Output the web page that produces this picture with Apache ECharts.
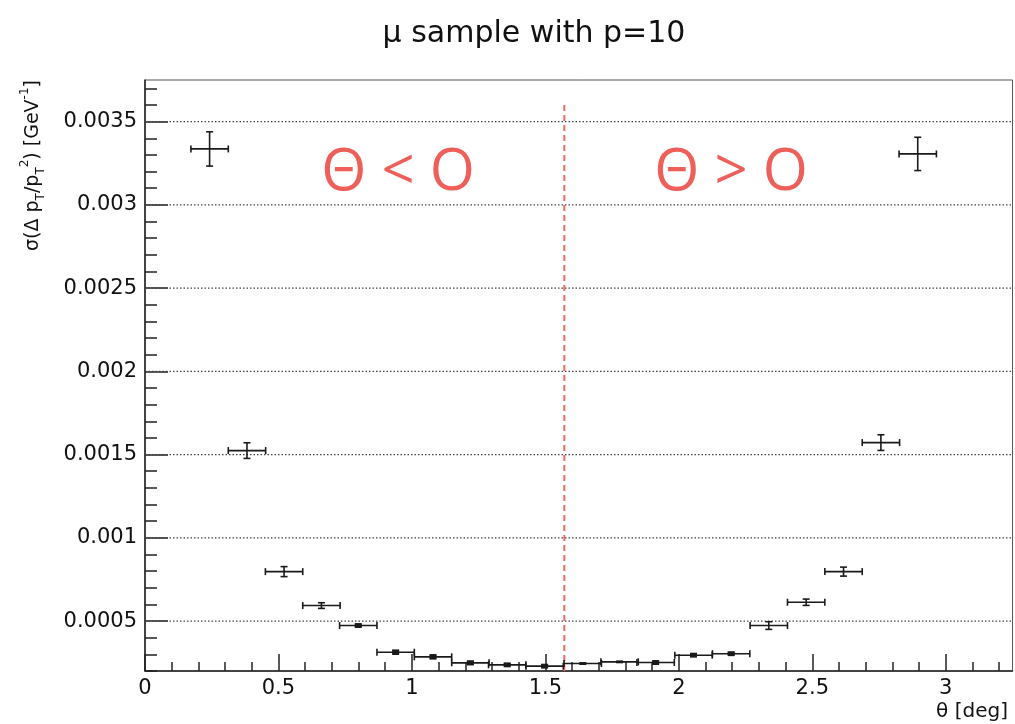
<!DOCTYPE html>
<html>
<head>
<meta charset="utf-8">
<script src="https://cdn.jsdelivr.net/npm/echarts@6/dist/echarts.min.js"></script>
<style>
  html, body { margin: 0; padding: 0; background: #fff; }
  #chart { width: 1015px; height: 724px; }
</style>
</head>
<body>
<div id="chart"></div>
<script>
// ---- data ----
const thetaCenters = [0.242, 0.382, 0.521, 0.661, 0.799, 0.939, 1.079, 1.219, 1.357, 1.497,
                      1.640, 1.778, 1.913, 2.055, 2.196, 2.337, 2.477, 2.617, 2.757, 2.895];
const thetaHalfWidths = [0.070, 0.070, 0.070, 0.070, 0.070, 0.070, 0.070, 0.070, 0.070, 0.070,
                         0.070, 0.070, 0.070, 0.070, 0.070, 0.070, 0.070, 0.070, 0.070, 0.070];
const sigmaValues = [0.003336, 0.001524, 0.000797, 0.000593, 0.000473, 0.000313, 0.000285, 0.000249, 0.000237, 0.000229,
                     0.000245, 0.000255, 0.000251, 0.000295, 0.000304, 0.000473, 0.000613, 0.000797, 0.001572, 0.003306];
const sigmaErrors = [0.000103, 0.000047, 0.000030, 0.000017, 0.000010, 0.000012, 0.000012, 0.000011, 0.000010, 0.000010,
                     0.000004, 0.000004, 0.000010, 0.000010, 0.000010, 0.000023, 0.000019, 0.000027, 0.000047, 0.000100];

const dividerX = 1.571;
const dividerYRange = [0.0002, 0.00362];

const xTickValues = [0, 0.5, 1, 1.5, 2, 2.5, 3];
const xTickLabels = ['0', '0.5', '1', '1.5', '2', '2.5', '3'];
const yTickValues = [0.0005, 0.001, 0.0015, 0.002, 0.0025, 0.003, 0.0035];
const yTickLabels = ['0.0005', '0.001', '0.0015', '0.002', '0.0025', '0.003', '0.0035'];

const xRange = [0, 3.25];
const yRange = [0.0002, 0.00375];

const titleText = 'μ sample with p=10';
const xAxisTitle = 'θ [deg]';
const leftNote = 'Θ < O';
const rightNote = 'Θ > O';

// minor tick positions
const xMinorTicks = [];
for (let i = 0; i <= 32; i++) xMinorTicks.push(i / 10);
const yMinorTicks = [];
for (let i = 2; i <= 37; i++) yMinorTicks.push(i / 10000);

// ---- build ----
const errData = thetaCenters.map((x, i) => [x, sigmaValues[i], thetaHalfWidths[i], sigmaErrors[i]]);
const gridData = yTickValues.map(v => [v]);

const FONT = 'DejaVu Sans';
const chart = echarts.init(document.getElementById('chart'), null, { renderer: 'canvas' });

const option = {
  animation: false,
  backgroundColor: '#ffffff',
  title: {
    text: titleText,
    left: 529,
    top: 14,
    textAlign: 'center',
    textStyle: { fontFamily: FONT, fontSize: 30, fontWeight: 'normal', color: '#111' }
  },
  grid: {
    left: 145, right: 2.5, top: 80, bottom: 53,
    show: true, borderColor: '#555', borderWidth: 1, backgroundColor: 'transparent'
  },
  xAxis: [
    {
      type: 'value', min: xRange[0], max: xRange[1], position: 'bottom',
      axisLine: { show: true, onZero: false, lineStyle: { color: '#222', width: 1.5 } },
      axisTick: { show: true, inside: true, length: 17, customValues: xTickValues, lineStyle: { color: '#222', width: 1.5 } },
      axisLabel: {
        customValues: xTickValues, margin: 7,
        fontFamily: FONT, fontSize: 21, color: '#111',
        formatter: v => { const i = xTickValues.findIndex(t => Math.abs(t - v) < 1e-9); return i >= 0 ? xTickLabels[i] : ''; }
      },
      splitLine: { show: false }
    },
    {
      type: 'value', min: xRange[0], max: xRange[1], position: 'bottom', offset: 0,
      axisLine: { show: false, onZero: false },
      axisTick: { show: true, inside: true, length: 9, customValues: xMinorTicks, lineStyle: { color: '#222', width: 1.5 } },
      axisLabel: { show: false },
      splitLine: { show: false }
    }
  ],
  yAxis: [
    {
      type: 'value', min: yRange[0], max: yRange[1], position: 'left',
      axisLine: { show: true, onZero: false, lineStyle: { color: '#222', width: 1.5 } },
      axisTick: { show: true, inside: true, length: 23, customValues: yTickValues, lineStyle: { color: '#222', width: 1.5 } },
      axisLabel: {
        customValues: yTickValues, margin: 8,
        fontFamily: FONT, fontSize: 21, color: '#111',
        formatter: v => { const i = yTickValues.findIndex(t => Math.abs(t - v) < 1e-12); return i >= 0 ? yTickLabels[i] : ''; }
      },
      splitLine: { show: false }
    },
    {
      type: 'value', min: yRange[0], max: yRange[1], position: 'left', offset: 0,
      axisLine: { show: false, onZero: false },
      axisTick: { show: true, inside: true, length: 12, customValues: yMinorTicks, lineStyle: { color: '#222', width: 1.5 } },
      axisLabel: { show: false },
      splitLine: { show: false }
    }
  ],
  graphic: [
    {
      type: 'text', x: 33, y: 80, rotation: Math.PI / 2, z: 10,
      style: {
        text: '{n|σ(Δ p}{s|T}{n|/p}{s|T}{p|2}{n|) [GeV}{p|-1}{n|]}',
        align: 'right', verticalAlign: 'middle',
        fill: '#111',
        rich: {
          n: { fontFamily: FONT, fontSize: 19, lineHeight: 28, fill: '#111' },
          s: { fontFamily: FONT, fontSize: 12, lineHeight: 28, verticalAlign: 'bottom', fill: '#111' },
          p: { fontFamily: FONT, fontSize: 12, lineHeight: 28, verticalAlign: 'top', fill: '#111' }
        }
      }
    },
    {
      type: 'text', x: 1008, y: 712, z: 10,
      style: { text: xAxisTitle, align: 'right', verticalAlign: 'middle', fontFamily: FONT, fontSize: 20, fill: '#111' }
    },
    {
      type: 'text', x: 398, y: 173, z: 10,
      style: { text: leftNote, align: 'center', verticalAlign: 'middle', fontFamily: 'Open Sans', fontSize: 58, fill: '#EE5F59' }
    },
    {
      type: 'text', x: 731, y: 173, z: 10,
      style: { text: rightNote, align: 'center', verticalAlign: 'middle', fontFamily: 'Open Sans', fontSize: 58, fill: '#EE5F59' }
    }
  ],
  series: [
    {
      type: 'custom', name: 'grid', xAxisIndex: 0, yAxisIndex: 0, z: 1, silent: true,
      data: gridData,
      encode: { y: 0 },
      renderItem: (params, api) => {
        const cs = params.coordSys;
        const yPix = api.coord([xRange[0], api.value(0)])[1];
        return {
          type: 'line',
          shape: { x1: cs.x, y1: yPix, x2: cs.x + cs.width, y2: yPix },
          style: { stroke: '#444', lineWidth: 1.2, lineDash: [1.5, 2] }
        };
      }
    },
    {
      type: 'line', name: 'divider', xAxisIndex: 0, yAxisIndex: 0, z: 2, silent: true,
      data: [[dividerX, dividerYRange[0]], [dividerX, dividerYRange[1]]],
      symbol: 'none',
      lineStyle: { color: '#EE6A64', width: 2, type: [6, 4] }
    },
    {
      type: 'custom', name: 'sigma', xAxisIndex: 0, yAxisIndex: 0, z: 5,
      data: errData,
      encode: { x: 0, y: 1 },
      renderItem: (params, api) => {
        const x = api.value(0), y = api.value(1), ex = api.value(2), ey = api.value(3);
        const pl = api.coord([x - ex, y]);
        const pr = api.coord([x + ex, y]);
        const pt = api.coord([x, y + ey]);
        const pb = api.coord([x, y - ey]);
        const cap = 3.5;
        const st = { stroke: '#1a1a1a', lineWidth: 1.6, fill: null };
        const children = [
          { type: 'line', shape: { x1: pl[0], y1: pl[1], x2: pr[0], y2: pr[1] }, style: st },
          { type: 'line', shape: { x1: pl[0], y1: pl[1] - cap, x2: pl[0], y2: pl[1] + cap }, style: st },
          { type: 'line', shape: { x1: pr[0], y1: pr[1] - cap, x2: pr[0], y2: pr[1] + cap }, style: st },
          { type: 'line', shape: { x1: pt[0], y1: pt[1], x2: pb[0], y2: pb[1] }, style: st },
          { type: 'line', shape: { x1: pt[0] - cap, y1: pt[1], x2: pt[0] + cap, y2: pt[1] }, style: st },
          { type: 'line', shape: { x1: pb[0] - cap, y1: pb[1], x2: pb[0] + cap, y2: pb[1] }, style: st }
        ];
        if (pb[1] - pt[1] < 4.5) {
          children.push({ type: 'rect', shape: { x: pt[0] - cap, y: pt[1], width: 2 * cap, height: Math.max(pb[1] - pt[1], 1) }, style: { fill: '#1a1a1a' } });
        }
        return { type: 'group', children };
      }
    }
  ]
};
chart.setOption(option);
</script>
</body>
</html>
